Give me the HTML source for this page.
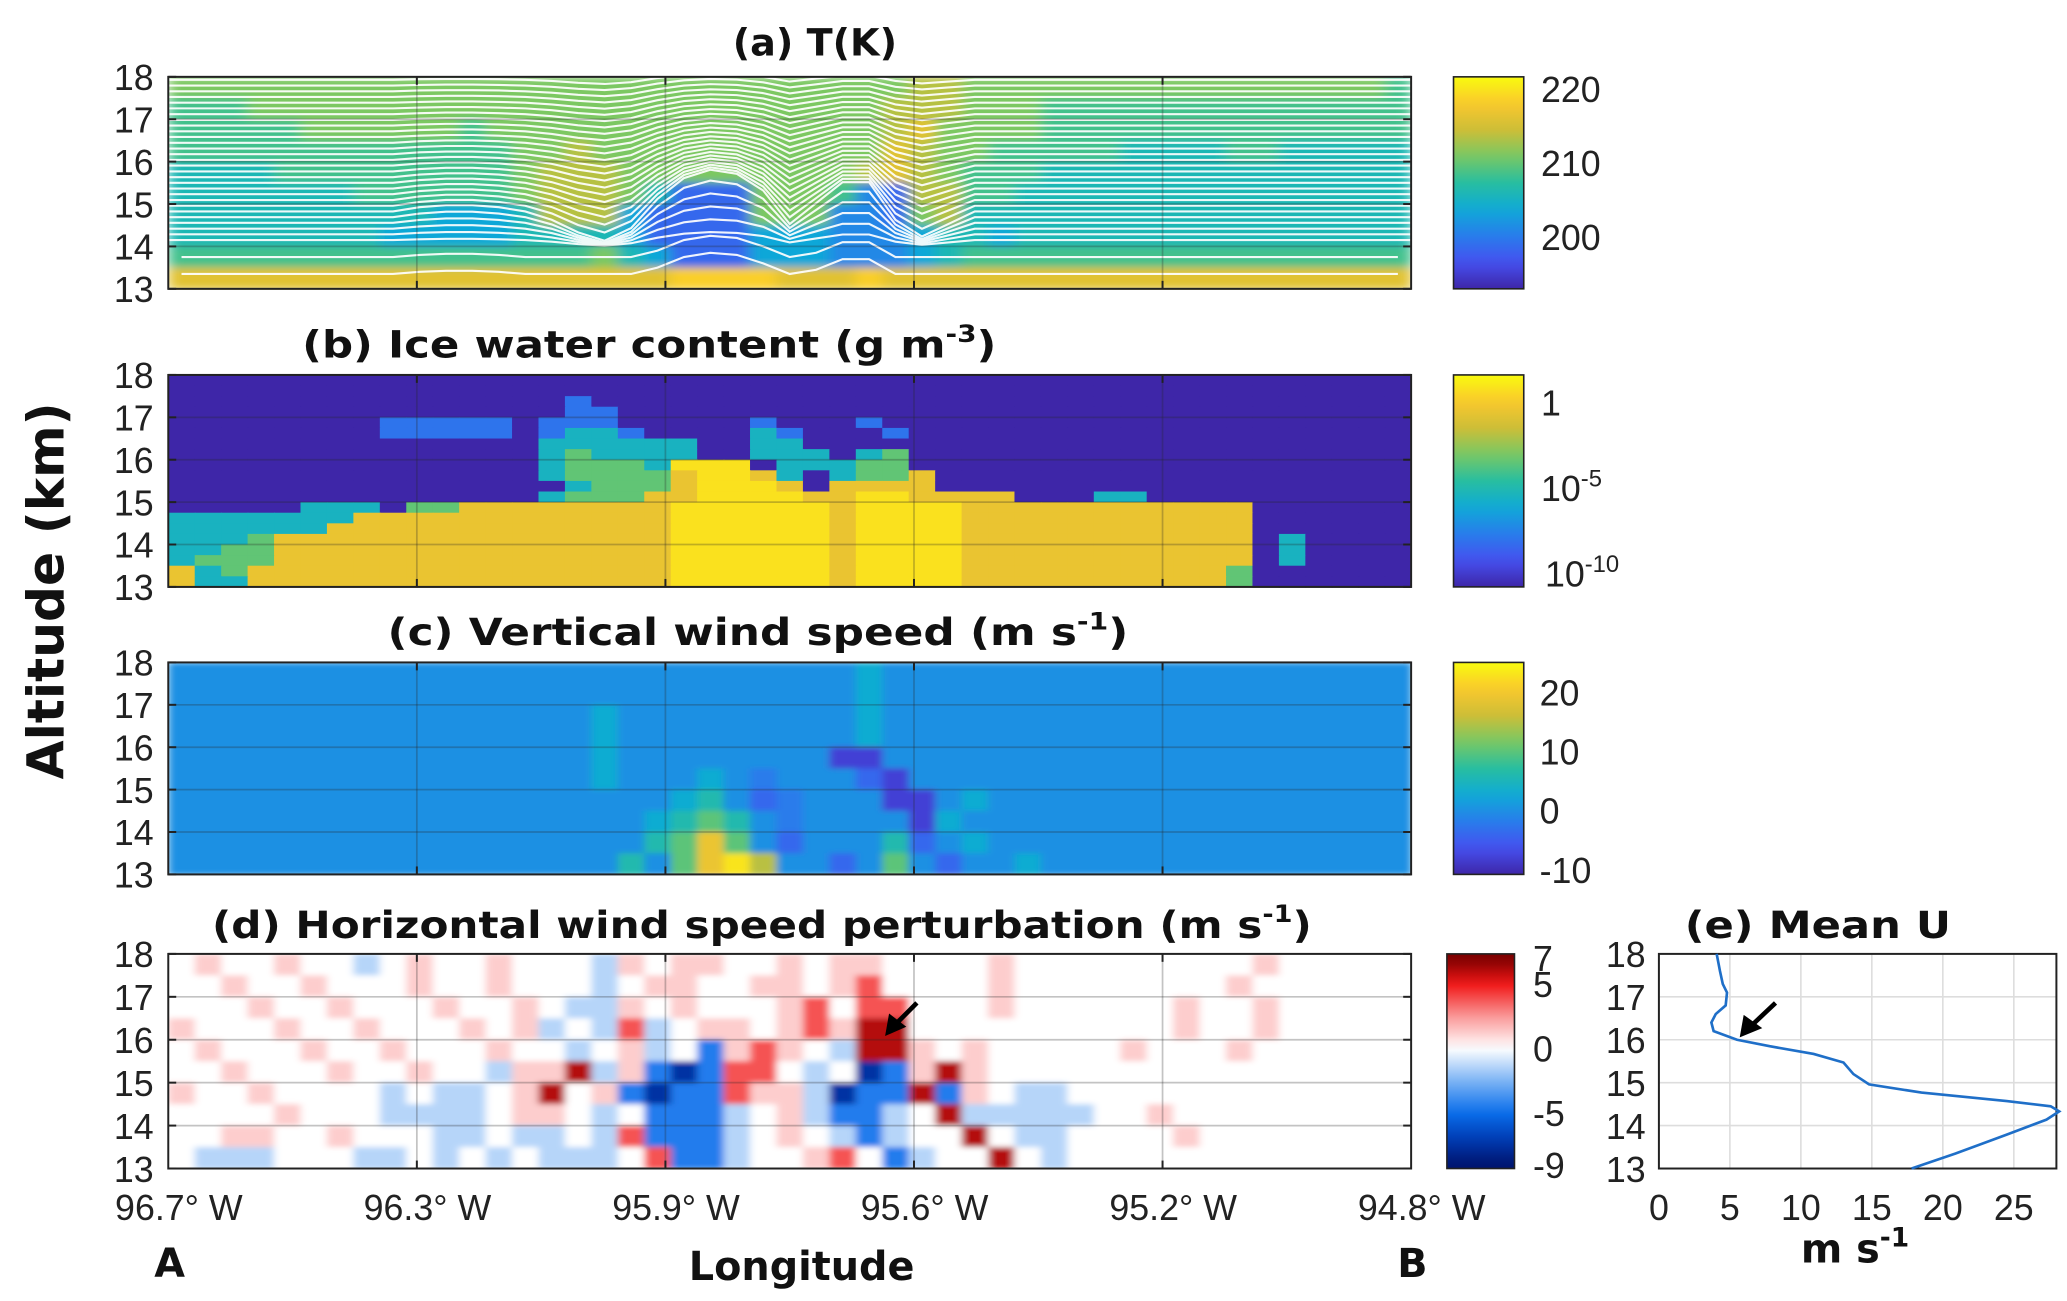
<!DOCTYPE html>
<html><head><meta charset="utf-8">
<style>
html,body{margin:0;padding:0;background:#fff;}
svg{display:block;}
text{font-family:"Liberation Sans","DejaVu Sans",sans-serif;fill:#222;}
.tk{font-size:27px;}
.ttl{font-family:"DejaVu Sans","Liberation Sans",sans-serif;font-weight:bold;font-size:28px;fill:#111;}
.big{font-family:"DejaVu Sans","Liberation Sans",sans-serif;font-weight:bold;fill:#111;}
</style></head>
<body>
<svg id="fig" width="2067" height="1301" viewBox="0 0 1560 982" preserveAspectRatio="none" xmlns="http://www.w3.org/2000/svg">
<defs>
<filter id="soft" x="0" y="0" width="1" height="1"><feGaussianBlur stdDeviation="5 3" edgeMode="duplicate"/></filter>
<filter id="soft2" x="0" y="0" width="1" height="1"><feGaussianBlur stdDeviation="3 2" edgeMode="duplicate"/></filter>
<clipPath id="clipA"><rect x="127" y="58" width="938" height="160"/></clipPath>
</defs>
</svg>
<script>
// ---------- data ----------
const lonTicks = ['96.7° W','96.3° W','95.9° W','95.6° W','95.2° W','94.8° W'];
const altTicks = [18,17,16,15,14,13];
const tCbTicks = [220,210,200];
const wCbTicks = [20,10,0,-10];
const dCbTicks = [7,5,0,-5,-9];
const eXTicks = [0,5,10,15,20,25];
// temperature grid: digit d -> T = 196 + 2.5 d (rows 18 km -> 13 km, 0.5 km each)
const tempGrid = [
"66666666666666666666666666667766666666666666665",
"55566666666666666666666666677766655555555555555",
"55555666666566666666666666678666655555555555555",
"55555555555556676666666666687665555544445544444",
"44445555555556777666666666787655544444444444444",
"44444445555556777641116665217755444444444444444",
"44444444443334777311116662216744444444444444444",
"44444444333334444311113332223443444444444444444",
"55555555555555556431113332223455555555555555555",
"88888888888888888889999888988888888888888888888"];
const tempBump = [0,0,0,0,0,0,0,0,0,0.1,0.15,0.15,0.1,0,-0.2,-0.5,-0.7,-0.4,0.3,0.8,1.0,0.9,0.5,-0.3,0.2,0.7,0.7,-0.2,-0.6,-0.3,0,0,0,0,0,0,0,0,0,0,0,0,0,0,0,0,0];
// ice water content grid (rows 0.25 km): . bg, b blue, c cyan, g green, o orange, y yellow
const iwcGrid = [
"",
"",
"...............b",
"...............bb",
"........bbbbb.bbb.....b...b",
"........bbbbb.bccb....cb...b",
"..............cccccc..cc",
"..............cgcccc..ccc.cg",
"..............cgggcyyy.cccgg",
"..............cggggoyyoc.cggo",
"...............cgggoyyyo.oooo",
"..............cgggooyyyyooyyoooo...cc",
".....ccc.ggooooooooyyyyyyoyyyyooooooooooo",
"cccccccooooooooooooyyyyyyoyyyyooooooooooo",
"ccccccoooooooooooooyyyyyyoyyyyooooooooooo",
"cccgoooooooooooooooyyyyyyoyyyyooooooooooo.c",
"ccggoooooooooooooooyyyyyyoyyyyooooooooooo.c",
"cgggoooooooooooooooyyyyyyoyyyyooooooooooo.c",
"ocgooooooooooooooooyyyyyyoyyyyoooooooooog",
"occooooooooooooooooyyyyyyoyyyyoooooooooog"];
const iwcCodes = {'.':-11,'b':-8,'c':-5.5,'g':-3.5,'o':-0.5,'y':0.8};
// vertical wind grid (rows 0.5 km)
const wGrid = [
"..........................1",
"..........................1",
"................1.........1",
"................1.........1",
"................1........aa",
"................1...1.c...ba",
"...................12.bc...aa.1",
"..................1232.c....a1",
"..................2353.b...2b.1",
".................2.3564..b.3.b..1"];
const wCodes = {'.':0,'a':-8,'b':-4,'c':-2,'1':3,'2':6,'3':10,'4':15,'5':19,'6':23};
// horizontal wind perturbation grid (rows 0.5 km)
const dGrid = [
".r..r..b.r..r...br.rr..r.rr....r.........r.....",
"..r..r...r..r...b.rr..rr.rR....r........r......",
"...r..r...r..r.bbr.r...rR.RR...r......r..r.....",
"r...r..r...r.rb.bRb.rr.rRrDD..........r..r.....",
".r...r..r...r..b.rb.BrRr.bDDr.r.....r...r......",
"..r...r..r..brrDbrBNBRR.b.NBrDr................",
"r..r....b.bb.rD.rBNBBRrrbNBBDBr.bb.............",
"....r...bbbb.rr.b.BBBb.rbBBb.Dbbbbb..r.........",
"..rr..r...bb.bb.bRBBBb.r.bBb..D.bb....r........",
".bbb...bb.b.b.bbb.RBBb..rR.Bb..D.b............."];
const dCodes = {'.':0,'r':1.2,'R':3.8,'D':6,'b':-1.4,'B':-4.5,'N':-7.5};
// mean U profile
const meanU   = [4.07,4.3,4.5,4.8,4.7,4.0,3.7,3.85,5.5,7.8,10.9,13.0,13.7,14.8,18.5,24.5,27.6,28.2,27.3,24.5,20.9,17.8];
const meanAlt = [18.0,17.6,17.3,17.1,16.8,16.6,16.4,16.2,16.0,15.85,15.67,15.47,15.2,14.96,14.77,14.57,14.45,14.33,14.14,13.79,13.35,13.0];

// ---------- helpers ----------
const NS='http://www.w3.org/2000/svg';
const svg=document.getElementById('fig');
function mk(tag,attrs,parent){const e=document.createElementNS(NS,tag);for(const k in attrs)e.setAttribute(k,attrs[k]);(parent||svg).appendChild(e);return e;}
const X0=127,X1=1065,NC=47,CW=(X1-X0)/NC;
const P={a:[58,218],b:[283,443],c:[500,660],d:[720,882]};
function yAlt(p,alt){const [t,b]=P[p];return t+(18-alt)/5*(b-t);}
const parStops=[[0,[62,38,168]],[0.125,[70,80,240]],[0.25,[40,125,235]],[0.375,[15,170,215]],[0.5,[40,190,160]],[0.625,[120,200,100]],[0.75,[205,190,55]],[0.875,[250,200,45]],[1,[249,251,14]]];
const divStops=[[-9,[0,20,110]],[-7,[0,60,180]],[-5,[10,110,235]],[-2.5,[125,180,245]],[0,[255,255,255]],[2.5,[250,150,150]],[5,[240,20,20]],[7,[120,0,0]]];
function interp(stops,v){if(v<=stops[0][0])return stops[0][1];for(let i=1;i<stops.length;i++){if(v<=stops[i][0]){const [a,ca]=stops[i-1],[b,cb]=stops[i];const f=(v-a)/(b-a);return ca.map((c,k)=>Math.round(c+(cb[k]-c)*f));}}return stops[stops.length-1][1];}
function rgb(c){return 'rgb('+c.join(',')+')';}
function parula(t){return rgb(interp(parStops,Math.max(0,Math.min(1,t))));}
const tRange=[193,221.6], iRange=[-10.8,1.6], wRange=[-10.8,25], dRange=[-9.3,7.3];

function heat(p,grid,valFn,colFn,name,filt){
  const g=mk('g',{filter:filt?'url(#'+filt+')':''});
  
  
  const [t,b]=P[p];const nr=grid.length;const rh=(b-t)/nr;
  for(let r=0;r<nr;r++){const row=grid[r];for(let c=0;c<NC;c++){
    const ch=c<row.length?row[c]:'.';const v=valFn(ch);
    const rc=mk('rect',{x:(X0+c*CW).toFixed(2),y:(t+r*rh).toFixed(2),width:(CW+0.6).toFixed(2),height:(rh+0.6).toFixed(2),fill:colFn(v)},g);
    
    
  }}
  return g;
}
function frame(p,name){
  const [t,b]=P[p];
  const gg=mk('g',{});
  
  
  altTicks.forEach(a=>{const y=yAlt(p,a);mk('line',{x1:X0,x2:X1,y1:y,y2:y,stroke:'rgba(40,40,40,0.28)','stroke-width':1.3},gg);
    mk('line',{x1:X0,x2:X0+6,y1:y,y2:y,stroke:'#222','stroke-width':1.5},gg);mk('line',{x1:X1-6,x2:X1,y1:y,y2:y,stroke:'#222','stroke-width':1.5},gg);
    const tl=mk('text',{x:116,y:y+10,'text-anchor':'end',class:'tk'});tl.textContent=a;
    
    });
  for(let i=1;i<lonTicks.length-1;i++){const x=X0+i*(X1-X0)/5;mk('line',{x1:x,x2:x,y1:t,y2:b,stroke:'rgba(40,40,40,0.28)','stroke-width':1.3},gg);
    mk('line',{x1:x,x2:x,y1:b-6,y2:b,stroke:'#222','stroke-width':1.5},gg);mk('line',{x1:x,x2:x,y1:t,y2:t+6,stroke:'#222','stroke-width':1.5},gg);}
  const bx=mk('rect',{x:X0,y:t,width:X1-X0,height:b-t,fill:'none',stroke:'#222','stroke-width':1.5});
  
  
}
function colorbar(p,x,w,colFn,range,name){
  const [t,b]=P[p];const id='cb'+p;
  const lg=mk('linearGradient',{id:id,x1:0,y1:1,x2:0,y2:0},svg.querySelector('defs'));
  for(let i=0;i<=20;i++){const v=range[0]+(range[1]-range[0])*i/20;mk('stop',{offset:i/20,'stop-color':colFn(v)},lg);}
  const r=mk('rect',{x:x,y:t,width:w,height:b-t,fill:'url(#'+id+')',stroke:'#222','stroke-width':1.2});
  
  
}
function cbLabel(p,x,v,range,txt,sup,name){
  const [t,b]=P[p];const y=b-(v-range[0])/(range[1]-range[0])*(b-t);
  const tx=mk('text',{x:x,y:y+10,class:'tk'});tx.textContent=txt;
  if(sup){const s=mk('tspan',{dy:-11,'font-size':18},tx);s.textContent=sup;}
  
  
}
function title(x,y,len,parts,name){
  const tx=mk('text',{x:x,y:y,class:'ttl','text-anchor':'middle',textLength:len,lengthAdjust:'spacingAndGlyphs'});
  parts.forEach(pt=>{const s=mk('tspan',pt[1]?{dy:pt[1],'font-size':pt[2]||28}:{},tx);s.textContent=pt[0];});
  
  
}
const tVal=ch=>196+2.5*(+ch), tCol=v=>parula((v-tRange[0])/(tRange[1]-tRange[0]));
const iVal=ch=>iwcCodes[ch]??-11, iCol=v=>parula((v-iRange[0])/(iRange[1]-iRange[0]));
const wVal=ch=>wCodes[ch]??0, wCol=v=>parula((v-wRange[0])/(wRange[1]-wRange[0]));
const dVal=ch=>dCodes[ch]??0, dCol=v=>rgb(interp(divStops,v));

// ---------- panel a ----------
heat('a',tempGrid,tVal,tCol,'temperature','soft');
const cont=mk('g',{'clip-path':'url(#clipA)',fill:'none',stroke:'#fff','stroke-width':1.6,opacity:0.92});


for(let base=14.15;base<18.05;base+=0.135){
  const decay=base>14.8?Math.exp(-(base-14.8)/1.6):Math.max(0,(base-14.0)/0.8);
  let d='';for(let c=0;c<NC;c++){const alt=base+tempBump[c]*decay;const x=X0+(c+0.5)*CW;d+=(c?'L':'M')+x.toFixed(1)+','+yAlt('a',alt).toFixed(1);}
  d='M'+X0+','+yAlt('a',base+tempBump[0]*decay).toFixed(1)+d.replace('M','L')+'L'+X1+','+yAlt('a',base).toFixed(1);
  const pl=mk('path',{d:d},cont);
  
  
}
[13.35,13.75].forEach(base=>{let d='';for(let c=0;c<NC;c++){const alt=base+Math.max(0,tempBump[c])*0.5;d+=(c?'L':'M')+(X0+(c+0.5)*CW).toFixed(1)+','+yAlt('a',alt).toFixed(1);}
  const pl=mk('path',{d:d},cont);
  
  });
frame('a','panel-a');
colorbar('a',1097,53,tCol,tRange,'temperature-colorbar');
tCbTicks.forEach(v=>cbLabel('a',1163,v,tRange,String(v),null,'temperature-colorbar-label'));
title(615,42,124,[['(a) T(K)']],'panel-a-title');

// ---------- panel b ----------
heat('b',iwcGrid,iVal,iCol,'ice-water',null);
frame('b','panel-b');
colorbar('b',1097,53,iCol,iRange,'ice-water-colorbar');
cbLabel('b',1163,0,iRange,'1',null,'ice-water-colorbar-label');
cbLabel('b',1163,-5,iRange,'10','-5','ice-water-colorbar-label');
cbLabel('b',1166,-10,iRange,'10','-10','ice-water-colorbar-label');
title(490,270,524,[['(b) Ice water content (g m'],['-3',-12,18],[')',12]],'panel-b-title');

// ---------- panel c ----------
heat('c',wGrid,wVal,wCol,'vertical-wind','soft2');
frame('c','panel-c');
colorbar('c',1097,53,wCol,wRange,'vertical-wind-colorbar');
wCbTicks.forEach(v=>cbLabel('c',1162,v,wRange,String(v),null,'vertical-wind-colorbar-label'));
title(572,487,559,[['(c) Vertical wind speed (m s'],['-1',-12,18],[')',12]],'panel-c-title');

// ---------- panel d ----------
heat('d',dGrid,dVal,dCol,'horizontal-wind','soft2');
frame('d','panel-d');
colorbar('d',1092,51,dCol,dRange,'horizontal-wind-colorbar');
dCbTicks.forEach(v=>cbLabel('d',1157,v,dRange,String(v),null,'horizontal-wind-colorbar-label'));
title(575,708,830,[['(d) Horizontal wind speed perturbation (m s'],['-1',-12,18],[')',12]],'panel-d-title');
const ar1=mk('g',{});


mk('line',{x1:692,y1:757,x2:676,y2:773,stroke:'#000','stroke-width':3.5},ar1);
mk('polygon',{points:'668,782 671,765 684,775',fill:'#000'},ar1);

// x tick labels
lonTicks.forEach((t,i)=>{const tx=mk('text',{x:X0+i*(X1-X0)/5+8,y:921,'text-anchor':'middle',class:'tk'});tx.textContent=t;
  
  });

// ---------- panel e ----------
const EX0=1252,EX1=1552,ET=720,EB=882;
const ex=v=>EX0+v/28*(EX1-EX0), ey=a=>ET+(18-a)/5*(EB-ET);
const eg=mk('g',{});


eXTicks.forEach(v=>{const x=ex(v);mk('line',{x1:x,x2:x,y1:ET,y2:EB,stroke:'#ddd','stroke-width':1.2},eg);
  const tx=mk('text',{x:x,y:921,'text-anchor':'middle',class:'tk'});tx.textContent=v;
  
  });
altTicks.forEach(a=>{const y=ey(a);mk('line',{x1:EX0,x2:EX1,y1:y,y2:y,stroke:'#ddd','stroke-width':1.2},eg);
  const tx=mk('text',{x:1242,y:y+10,'text-anchor':'end',class:'tk'});tx.textContent=a;
  
  });
const ebx=mk('rect',{x:EX0,y:ET,width:EX1-EX0,height:EB-ET,fill:'none',stroke:'#222','stroke-width':1.5});


const ln=mk('polyline',{points:meanU.map((u,i)=>ex(u).toFixed(1)+','+ey(meanAlt[i]).toFixed(1)).join(' '),fill:'none',stroke:'#1f6fc8','stroke-width':2});


const ar2=mk('g',{});


mk('line',{x1:1340,y1:757,x2:1322,y2:774,stroke:'#000','stroke-width':3.5},ar2);
mk('polygon',{points:'1313,783 1316,766 1330,776',fill:'#000'},ar2);
title(1372,708,201,[['(e) Mean U']],'panel-e-title');
const ms=mk('text',{x:1400,y:953,'text-anchor':'middle',class:'big','font-size':30});
const m1=mk('tspan',{},ms);m1.textContent='m s';const m2=mk('tspan',{dy:-12,'font-size':20},ms);m2.textContent='-1';



// ---------- common labels ----------
const yl=mk('text',{x:0,y:0,class:'big','font-size':38,'text-anchor':'middle',transform:'translate(48,446) rotate(-90)'});
yl.textContent='Altitude (km)';


const xl=mk('text',{x:605,y:966,class:'big','font-size':30,'text-anchor':'middle'});
xl.textContent='Longitude';


const la=mk('text',{x:128,y:964,class:'big','font-size':30,'text-anchor':'middle'});
la.textContent='A';


const lb=mk('text',{x:1066,y:964,class:'big','font-size':30,'text-anchor':'middle'});
lb.textContent='B';


</script>
</body></html>
